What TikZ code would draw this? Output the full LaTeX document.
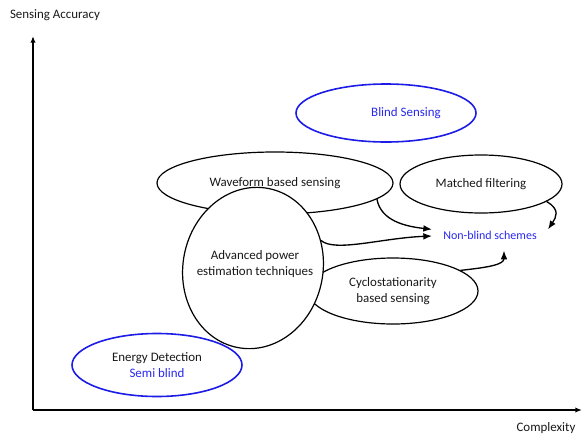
\documentclass[tikz,border=0pt]{standalone}
\usepackage{fontspec}
\setmainfont{Carlito}
\usetikzlibrary{shapes.geometric,arrows.meta,calc}

\definecolor{schemeblue}{RGB}{40,40,240}
\definecolor{ovalblue}{RGB}{28,28,230}
\definecolor{inkgrey}{RGB}{25,25,25}

\tikzset{every picture/.style={line width=0.9pt}}
\tikzset{
  oval/.style={draw, ellipse, inner sep=0pt, fill=white, align=center, text=inkgrey, font=\fontsize{9.7}{12.2}\selectfont},
  blueoval/.style={oval, draw=ovalblue, line width=1.2pt},
  lbl/.style={align=center, text=inkgrey, font=\fontsize{9.7}{12.2}\selectfont},
  feed/.style={-{Latex[length=6.5pt,width=5pt]}, line width=1pt},
  axis/.style={-{Latex[length=5pt,width=4pt]}, line width=1pt},
}

\begin{document}
\begin{tikzpicture}[x=0.75pt,y=0.75pt,yscale=-1,xscale=1]
\useasboundingbox (0,0) rectangle (582,436);

%Axes
\coordinate (origin) at (33,410);
\coordinate (ytip) at (33,36);
\coordinate (xtip) at (582,410);
\draw [axis] (origin) -- (ytip);
\draw [axis] (origin) -- (xtip);

%Ellipses
\node [blueoval, minimum width=135pt, minimum height=43.5pt] (blind) at (386,113) {};
\node [oval, minimum width=177pt, minimum height=46.5pt] (wave) at (275,183) {Waveform based sensing};
\node [oval, minimum width=121.5pt, minimum height=43.5pt] (mf) at (481,184) {Matched filtering};
\node [oval, minimum width=127.5pt, minimum height=49.5pt] (cyc) at (393,291) {Cyclostationarity\\based sensing};
\node [oval, rotate=-11, minimum width=105pt, minimum height=121.5pt] (apet) at (253,268) {};
\node [blueoval, minimum width=127.5pt, minimum height=47.25pt] (ed) at (157,365) {Energy Detection\\\textcolor{schemeblue}{Semi blind}};

% Text Node
\node [lbl] (apettxt) at (255,264) {Advanced power\\estimation techniques};
% Text Node
\node [lbl, text=schemeblue] (blindtxt) at (406,113) {Blind Sensing};
% Text Node
\node [lbl, text=schemeblue, font=\fontsize{9}{11}\selectfont, inner xsep=8pt, inner ysep=0pt, text height=7pt, text depth=2pt] (nb) at (490,236) {Non-blind schemes};
% Text Node
\node [lbl] (yname) at (55,15) {Sensing Accuracy};
% Text Node
\node [lbl] (xname) at (546,428) {Complexity};

%Curved arrows
\draw [feed] (wave.-9) .. controls +(4,22) and +(-26,-3) .. (nb.north west);
\draw [feed] (apet.33) .. controls +(14,12) and +(-50,2) .. (nb.west);
\draw [feed] (mf.-15) .. controls +(14,8) and +(8,-12) .. (nb.north east);
\draw [feed] (cyc.17) .. controls +(28,-3) and +(0,14) .. ($(nb.south)+(14,8)$);

\end{tikzpicture}
\end{document}
